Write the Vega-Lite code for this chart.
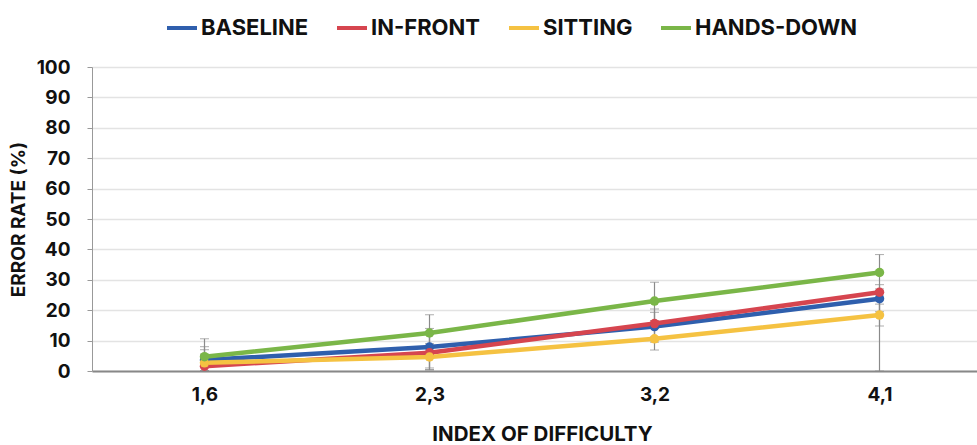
{
  "$schema": "https://vega.github.io/schema/vega-lite/v6.json",
  "width": 900,
  "height": 304,
  "autosize": {"type": "none"},
  "padding": {"left": 92, "top": 67, "right": 0, "bottom": 78},
  "background": "white",
  "config": {
    "font": "Inter",
    "view": {"stroke": null},
    "axisY": {
      "title": "ERROR RATE (%)", "titleFontSize": 19, "titleFontWeight": "bold", "titleColor": "#111", "titlePadding": 8,
      "labelFontSize": 19, "labelFontWeight": "bold", "labelColor": "#111", "labelPadding": 17, "labelOverlap": false,
      "tickSize": 5, "tickColor": "#999", "domainColor": "#999", "domainWidth": 1,
      "gridColor": "#e3e3e3", "gridWidth": 1.5
    },
    "axisX": {
      "titleFontSize": 20.5, "titleFontWeight": "bold", "titleColor": "#111", "titlePadding": 20,
      "labelAngle": 0, "labelFontSize": 19, "labelFontWeight": "bold", "labelColor": "#111", "labelPadding": 14,
      "ticks": false, "domainColor": "#888", "domainWidth": 2, "grid": false
    }
  },
  "data": {
    "values": [
      {"id": "1,6", "cond": "BASELINE", "err": 3.6, "low": 0, "high": 8},
      {"id": "1,6", "cond": "IN-FRONT", "err": 1.6, "low": 0, "high": 5.5},
      {"id": "1,6", "cond": "SITTING", "err": 2.7, "low": 0, "high": 7},
      {"id": "1,6", "cond": "HANDS-DOWN", "err": 4.7, "low": 0, "high": 10.6},
      {"id": "2,3", "cond": "BASELINE", "err": 7.9, "low": 1, "high": 14},
      {"id": "2,3", "cond": "IN-FRONT", "err": 6.0, "low": 0.5, "high": 12},
      {"id": "2,3", "cond": "SITTING", "err": 4.6, "low": 0.3, "high": 9},
      {"id": "2,3", "cond": "HANDS-DOWN", "err": 12.5, "low": 6.5, "high": 18.5},
      {"id": "3,2", "cond": "BASELINE", "err": 14.6, "low": 9.5, "high": 19.3},
      {"id": "3,2", "cond": "IN-FRONT", "err": 15.6, "low": 11.2, "high": 20.4},
      {"id": "3,2", "cond": "SITTING", "err": 10.6, "low": 6.9, "high": 14},
      {"id": "3,2", "cond": "HANDS-DOWN", "err": 23.0, "low": 16.6, "high": 29.2},
      {"id": "4,1", "cond": "BASELINE", "err": 23.8, "low": 0, "high": 27},
      {"id": "4,1", "cond": "IN-FRONT", "err": 25.9, "low": 19.5, "high": 28.4},
      {"id": "4,1", "cond": "SITTING", "err": 18.4, "low": 14.8, "high": 22},
      {"id": "4,1", "cond": "HANDS-DOWN", "err": 32.4, "low": 26.4, "high": 38.3}
    ]
  },
  "layer": [
    {
      "mark": {"type": "errorbar", "ticks": {"size": 9, "color": "#8a8a8a", "strokeWidth": 1.2}, "rule": {"color": "#8a8a8a", "strokeWidth": 1.2}},
      "encoding": {
        "x": {"field": "id", "type": "ordinal", "sort": ["1,6", "2,3", "3,2", "4,1"], "title": "INDEX OF DIFFICULTY"},
        "y": {"field": "low", "type": "quantitative", "title": "ERROR RATE (%)",
          "axis": {"values": [0, 10, 20, 30, 40, 50, 60, 70, 80, 90, 100]}},
        "y2": {"field": "high"}
      }
    },
    {
      "mark": {"type": "line", "strokeWidth": 4.5, "point": {"size": 90, "filled": true, "opacity": 1}},
      "encoding": {
        "x": {
          "field": "id", "type": "ordinal", "sort": ["1,6", "2,3", "3,2", "4,1"],
          "scale": {"type": "point", "padding": 0.5},
          "title": "INDEX OF DIFFICULTY"
        },
        "y": {
          "field": "err", "type": "quantitative",
          "scale": {"domain": [0, 100], "nice": false},
          "title": "ERROR RATE (%)",
          "axis": {"values": [0, 10, 20, 30, 40, 50, 60, 70, 80, 90, 100]}
        },
        "color": {
          "field": "cond", "type": "nominal",
          "scale": {"domain": ["BASELINE", "IN-FRONT", "SITTING", "HANDS-DOWN"], "range": ["#2f5fad", "#d6454f", "#f5c242", "#7ab648"]},
          "legend": {
            "title": null, "orient": "none", "direction": "horizontal", "legendX": 73, "legendY": -56,
            "symbolType": "stroke", "symbolSize": 900, "symbolStrokeWidth": 4,
            "labelFontSize": 22, "labelFontWeight": "bold", "labelColor": "#111", "labelOffset": 2, "labelLimit": 400,
            "columnPadding": 20
          }
        }
      }
    }
  ]
}
